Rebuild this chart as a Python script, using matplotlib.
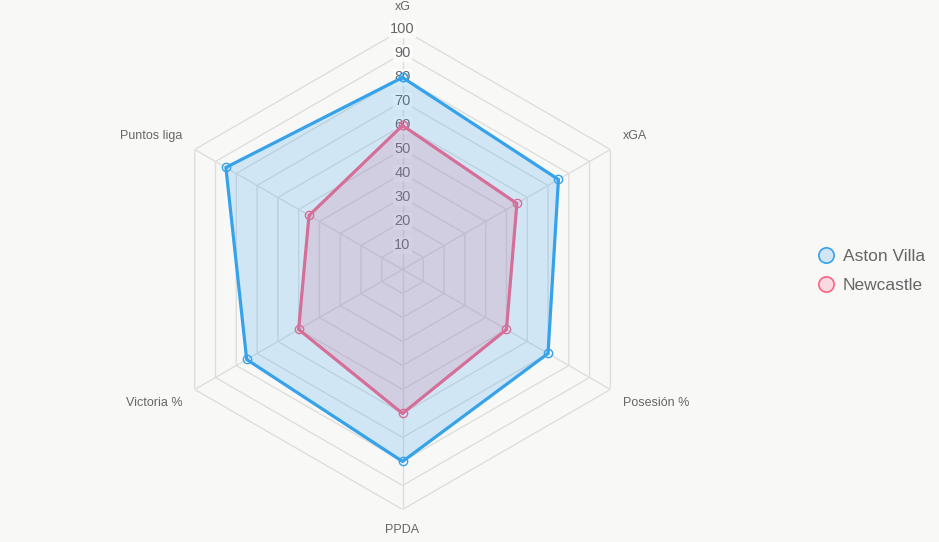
import numpy as np
import matplotlib
matplotlib.use("Agg")
import matplotlib.pyplot as plt
from matplotlib.lines import Line2D

plt.rcParams['font.family'] = ['Liberation Sans', 'DejaVu Sans']

categorias = ["xG", "xGA", "Posesión %", "PPDA", "Victoria %", "Puntos liga"]
aston_villa = [80, 75, 70, 80, 75, 85]
newcastle = [60, 55, 50, 60, 50, 45]
ticks = [10, 20, 30, 40, 50, 60, 70, 80, 90, 100]

azul = "#36A2EB"
rosa = "#FF6384"
fondo = "#F8F8F7"
gris = "#DEDEDD"
texto = "#666666"

fig = plt.figure(figsize=(9.39, 5.42), dpi=100)
fig.patch.set_facecolor(fondo)
ax = fig.add_axes([0.1731, 0.0600, 0.5112, 0.8856], projection="polar")
ax.set_facecolor(fondo)
ax.set_theta_offset(np.pi / 2)
ax.set_theta_direction(-1)
ax.set_ylim(0, 100)
ax.grid(False)
ax.spines["polar"].set_visible(False)
ax.set_xticks([])
ax.set_yticks([])

n = len(categorias)
ang = np.linspace(0, 2 * np.pi, n, endpoint=False)
ang_c = np.concatenate([ang, ang[:1]])

# rejilla hexagonal
for r in ticks:
    ax.plot(ang_c, [r] * (n + 1), color=gris, lw=1, zorder=1)
for a in ang:
    ax.plot([a, a], [0, 100], color=gris, lw=1, zorder=1)

# etiquetas de escala
for r in ticks:
    ax.text(0, r, str(r), ha="center", va="center", fontsize=10.5, color=texto, zorder=2,
            bbox=dict(facecolor="white", alpha=0.75, edgecolor="none", pad=1.2))

# etiquetas de ejes
pos = [(107, "center", "bottom"), (106, "left", "bottom"), (106, "left", "top"),
       (106, "center", "top"), (106, "right", "top"), (106, "right", "bottom")]
for a, lab, (r, ha, va) in zip(ang, categorias, pos):
    ax.text(a, r, lab, ha=ha, va=va, fontsize=9, color=texto)

# series (Aston Villa encima)
series = [("Newcastle", newcastle, rosa, 3), ("Aston Villa", aston_villa, azul, 4)]
for nombre, vals, col, z in series:
    v = np.concatenate([vals, vals[:1]])
    ax.fill(ang_c, v, color=col, alpha=0.2, lw=0, zorder=z)
    ax.plot(ang_c, v, color=col, lw=2.3, zorder=z + 0.1,
            marker="o", markersize=6, markerfacecolor=(0, 0, 0, 0),
            markeredgecolor=col, markeredgewidth=1)

handles = [
    Line2D([], [], ls="none", marker="o", markersize=11, markerfacecolor=(54/255, 162/255, 235/255, 0.2),
           markeredgecolor=azul, markeredgewidth=1.2, label="Aston Villa"),
    Line2D([], [], ls="none", marker="o", markersize=11, markerfacecolor=(1, 99/255, 132/255, 0.2),
           markeredgecolor=rosa, markeredgewidth=1.2, label="Newcastle"),
]
leg = fig.legend(handles=handles, loc="center left", bbox_to_anchor=(0.865, 0.5), frameon=False,
                 fontsize=12.5, handlelength=0.8, handletextpad=0.55, labelspacing=0.75, borderaxespad=0)
for t in leg.get_texts():
    t.set_color(texto)

fig.savefig("out.png", dpi=100, facecolor=fondo)
